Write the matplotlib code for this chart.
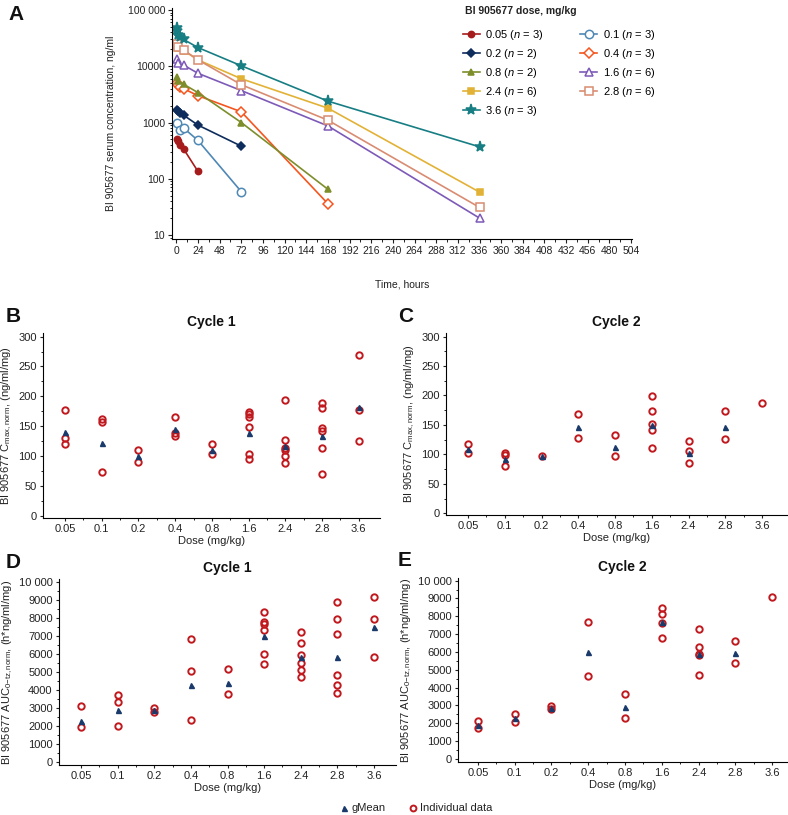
import numpy as np
import matplotlib
matplotlib.use("Agg")
import matplotlib.pyplot as plt
from matplotlib.ticker import FixedLocator, FuncFormatter, MultipleLocator, LogLocator, NullFormatter

plt.rcParams['font.family'] = ['Liberation Sans', 'DejaVu Sans']
plt.rcParams['mathtext.fontset'] = 'custom'
plt.rcParams['mathtext.rm'] = 'Liberation Sans'
plt.rcParams['mathtext.it'] = 'Liberation Sans:italic'

# ---------------- Panel A data ----------------
dose_labels = ["0.05", "0.1", "0.2", "0.4", "0.8", "1.6", "2.4", "2.8", "3.6"]
dose_n = [3, 3, 2, 3, 2, 6, 6, 6, 3]
t_005 = [0.5, 2, 4, 8, 24]
c_005 = [510, 470, 400, 340, 135]
t_01 = [0.5, 4, 8, 24, 72]
c_01 = [1000, 750, 800, 480, 59]
t_02 = [0.5, 2, 4, 8, 24, 72]
c_02 = [1700, 1600, 1500, 1350, 900, 380]
t_04 = [0.5, 2, 4, 8, 24, 72, 168]
c_04 = [5000, 4600, 4200, 4000, 3000, 1550, 36]
t_08 = [0.5, 2, 8, 24, 72, 168]
c_08 = [6500, 5500, 4800, 3400, 1000, 65]
t_16 = [0.5, 2, 8, 24, 72, 168, 336]
c_16 = [13500, 11500, 10500, 7500, 3700, 870, 20]
t_24 = [0.5, 2, 8, 24, 72, 168, 336]
c_24 = [22000, 21000, 19000, 13000, 6000, 1800, 58]
t_28 = [0.5, 2, 8, 24, 72, 168, 336]
c_28 = [25000, 22000, 19500, 13000, 4700, 1100, 31]
t_36 = [0.5, 1, 2, 4, 8, 24, 72, 168, 336]
c_36 = [47000, 42000, 36000, 33000, 30000, 21500, 10200, 2400, 370]

pk_times = [t_005, t_01, t_02, t_04, t_08, t_16, t_24, t_28, t_36]
pk_conc = [c_005, c_01, c_02, c_04, c_08, c_16, c_24, c_28, c_36]
colors = ["#A61C1C", "#4F88B5", "#0E2D5C", "#F4561F", "#7D8E2B",
          "#7D5AB8", "#E2B236", "#D98C72", "#177E84"]
markers = ["o", "o", "D", "D", "^", "^", "s", "s", "*"]
filled = [True, False, True, False, True, False, True, False, True]
msizes = [4.5, 6, 4.5, 5.5, 5, 6, 5, 6, 8]

# ---------------- Panels B-E data ----------------
# Individual values per dose (same order as dose_labels)
b_ind = [[177, 130, 120], [163, 157, 73], [110, 91], [166, 138, 134],
         [120, 104], [174, 170, 165, 148, 103, 96],
         [194, 127, 113, 110, 101, 88], [189, 180, 147, 142, 114, 70],
         [270, 177, 126]]
b_gmean = [140, 122, 100, 145, 110, 138, 117, 133, 182]

c_ind = [[117, 102], [102, 98.5, 80], [97], [169, 127], [133, 97],
         [199, 173, 151, 141.5, 110], [123, 106, 85], [173, 126], [188]]
c_gmean = [109, 92, 97, 146, 113, 150.5, 103, 147, np.nan]

d_ind = [[3090, 1930], [3700, 3300, 2000], [2960, 2780], [6810, 5040, 2310],
         [5150, 3780], [8300, 7760, 7670, 7330, 5960, 5440],
         [7220, 6590, 5940, 5500, 5110, 4700], [8870, 7910, 7110, 4800, 4240, 3810],
         [9150, 7910, 5810]]
d_gmean = [2260, 2870, 2870, 4260, 4390, 6980, 5810, 5830, 7480]

e_ind = [[2120, 1750], [2490, 2060], [2960, 2770], [7700, 4670], [3640, 2310],
         [8480, 8140, 7640, 6800], [7270, 6300, 5910, 5840, 4690], [6640, 5350],
         [9090]]
e_gmean = [1900, 2290, 2860, 5990, 2880, 7680, 5870, 5930, np.nan]

W, H = 788, 815
fig = plt.figure(figsize=(W / 100, H / 100), dpi=100)


def ax_px(left, top, right, bottom):
    return fig.add_axes([left / W, 1 - bottom / H, (right - left) / W, (bottom - top) / H])


FS = 7.5
TEXTC = "#222222"

# ---------------- Panel A ----------------
axA = ax_px(172, 8, 632, 239)
for i in range(len(dose_labels)):
    mfc = colors[i] if filled[i] else "white"
    axA.plot(pk_times[i], pk_conc[i], color=colors[i], marker=markers[i],
             markersize=msizes[i], markerfacecolor=mfc, markeredgecolor=colors[i],
             markeredgewidth=1.1, linewidth=1.2,
             label=f"{dose_labels[i]} ($n$ = {dose_n[i]})")
axA.set_yscale("log")
axA.set_ylim(8.5, 1.086e5)
axA.set_xlim(-4.8, 505)
axA.xaxis.set_major_locator(FixedLocator(np.arange(0, 505, 24)))
axA.xaxis.set_minor_locator(FixedLocator(np.arange(12, 505, 24)))
axA.yaxis.set_major_locator(FixedLocator([10, 100, 1000, 10000, 100000]))
axA.yaxis.set_major_formatter(FuncFormatter(
    lambda v, p: {10: "10", 100: "100", 1000: "1000", 10000: "10000", 100000: "100 000"}.get(int(round(v)), "")))
axA.yaxis.set_minor_locator(LogLocator(base=10, subs=np.arange(2, 10)))
axA.yaxis.set_minor_formatter(NullFormatter())
for s in ["top", "right"]:
    axA.spines[s].set_visible(False)
axA.tick_params(axis="both", which="major", labelsize=FS, length=3, width=0.8, colors=TEXTC, pad=2)
axA.tick_params(axis="both", which="minor", length=1.8, width=0.6)
axA.set_ylabel("BI 905677 serum concentration, ng/ml", fontsize=FS, color=TEXTC, labelpad=8)
axA.set_xlabel("Time, hours", fontsize=FS, color=TEXTC, labelpad=17)
axA.set_facecolor("none")

handles, labels = axA.get_legend_handles_labels()
order = [0, 2, 4, 6, 8, 1, 3, 5, 7]
leg = fig.legend([handles[k] for k in order], [labels[k] for k in order],
                 loc="upper left", bbox_to_anchor=(463 / W, 1 - 28 / H), ncol=2,
                 frameon=False, fontsize=FS + 0.5, handlelength=1.5,
                 columnspacing=3.3, labelspacing=0.45, handletextpad=0.5,
                 borderaxespad=0, borderpad=0)
fig.text(465 / W, 1 - 11 / H, "BI 905677 dose, mg/kg", fontsize=FS, fontweight="bold",
         color=TEXTC, va="center", ha="left")

# ---------------- Scatter panels ----------------
IND_C = "#C0191E"
GM_C = "#1A3A6B"


def scatter_panel(box, ind, gmean, ylim, ymaj, ymin, ylabel, title, xr, ticklabfmt):
    ax = ax_px(*box)
    xs = np.arange(len(dose_labels))
    for i in range(len(dose_labels)):
        ax.plot([xs[i]] * len(ind[i]), ind[i], linestyle="none", marker="o",
                markersize=4.6, markerfacecolor="none", markeredgecolor=IND_C,
                markeredgewidth=1.4, zorder=2)
    ax.plot(xs, gmean, linestyle="none", marker="^", markersize=3.6,
            color=GM_C, zorder=3)
    ax.set_xlim(*xr)
    ax.set_ylim(*ylim)
    ax.set_xticks(xs)
    ax.set_xticklabels(dose_labels)
    ax.xaxis.set_minor_locator(FixedLocator(xs[:-1] + 0.5))
    ax.yaxis.set_major_locator(MultipleLocator(ymaj))
    ax.yaxis.set_minor_locator(MultipleLocator(ymin))
    ax.yaxis.set_major_formatter(FuncFormatter(ticklabfmt))
    for s in ["top", "right"]:
        ax.spines[s].set_visible(False)
    ax.tick_params(axis="both", which="major", labelsize=FS + 0.5, length=2.5, width=0.8,
                   colors=TEXTC, pad=2)
    ax.tick_params(axis="both", which="minor", length=1.6, width=0.6)
    ax.set_ylabel(ylabel, fontsize=FS + 0.5, color=TEXTC, labelpad=3)
    ax.set_xlabel("Dose (mg/kg)", fontsize=FS + 0.5, color=TEXTC, labelpad=1)
    ax.set_title(title, fontsize=10, fontweight="bold", color="#111111", pad=5)
    ax.set_facecolor("none")
    return ax


fmt_plain = lambda v, p: f"{int(round(v))}"
fmt_auc = lambda v, p: "10 000" if int(round(v)) == 10000 else f"{int(round(v))}"

lab_c = r"BI 905677 C$_{\mathrm{max,norm}}$, (ng/ml/mg)"
lab_a = r"BI 905677 AUC$_{\mathrm{0{-}tz,norm}}$, (h*ng/ml/mg)"

scatter_panel((43, 333, 380, 518), b_ind, b_gmean, (-3.4, 306), 50, 25,
              lab_c, "Cycle 1", (-0.6, 8.58), fmt_plain)
scatter_panel((446, 333, 787, 515), c_ind, c_gmean, (-2.9, 306), 50, 25,
              lab_c, "Cycle 2", (-0.6, 8.68), fmt_plain)
scatter_panel((59, 579, 396, 765), d_ind, d_gmean, (-183, 10150), 1000, 500,
              lab_a, "Cycle 1", (-0.6, 8.6), fmt_auc)
scatter_panel((458, 578, 787, 762), e_ind, e_gmean, (-180, 10150), 1000, 500,
              lab_a, "Cycle 2", (-0.54, 8.4), fmt_auc)

# Panel letters
for (x, y, t) in [(8, 14, "A"), (6, 316, "B"), (398, 316, "C"), (6, 563, "D"), (398, 561, "E")]:
    fig.text(x / W, 1 - y / H, t, fontsize=15, fontweight="bold", color="#111111",
             ha="left", va="center")

# Bottom legend
fig.lines.append(plt.Line2D([344 / W], [1 - 808 / H], transform=fig.transFigure,
                            marker="^", markersize=3.6, color=GM_C, linestyle="none"))
fig.text(352 / W, 1 - 808 / H, "gMean", fontsize=FS + 0.5, color=TEXTC, va="center")
fig.lines.append(plt.Line2D([413 / W], [1 - 808 / H], transform=fig.transFigure,
                            marker="o", markersize=4.2, markerfacecolor="none",
                            markeredgecolor=IND_C, markeredgewidth=1.4, linestyle="none"))
fig.text(420 / W, 1 - 808 / H, "Individual data", fontsize=FS + 0.5, color=TEXTC, va="center")

fig.savefig("out.png", dpi=100)
